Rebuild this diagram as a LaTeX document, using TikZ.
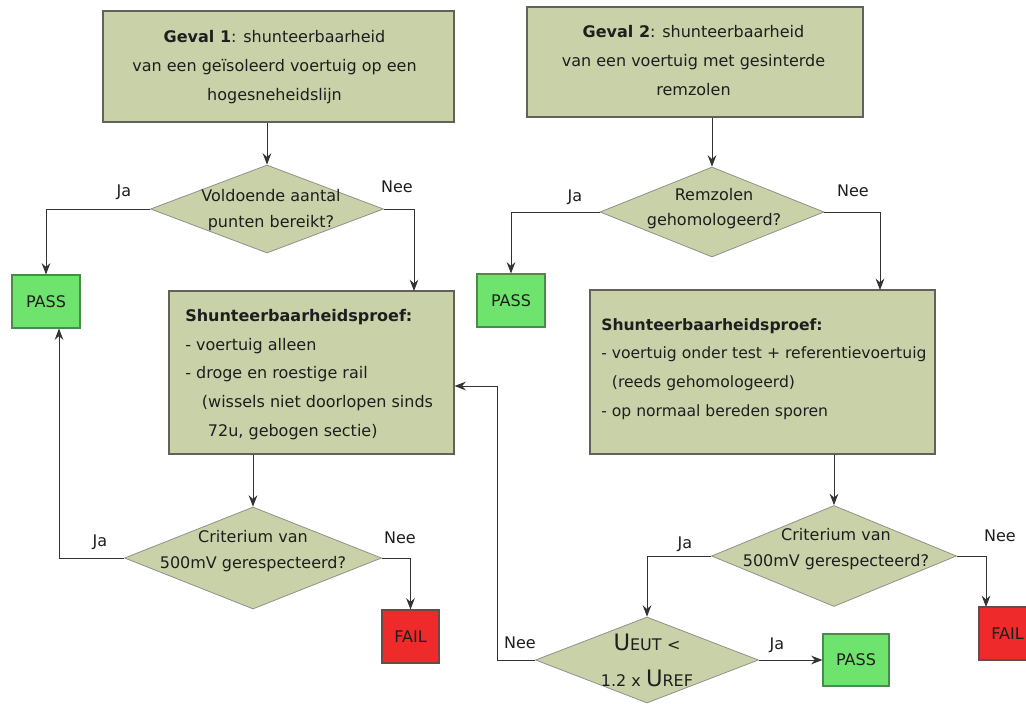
\documentclass[tikz,border=0pt]{standalone}
\usepackage{fontspec}
\setmainfont{DejaVu Sans}
\usetikzlibrary{shapes.geometric,arrows.meta,calc}
\definecolor{boxfill}{HTML}{C9D1A8}
\definecolor{boxline}{HTML}{62625A}
\definecolor{passfill}{HTML}{6EE46E}
\definecolor{passline}{HTML}{4A8A4A}
\definecolor{failfill}{HTML}{EE2A2A}
\definecolor{failline}{HTML}{6A4A4A}
\definecolor{txt}{HTML}{1E1E1E}
\definecolor{conn}{HTML}{333333}
\tikzset{
  every node/.style={text=txt, font=\fontsize{12}{14}\selectfont},
  procbox/.style={draw=boxline, fill=boxfill, line width=0.8pt, rectangle, inner sep=0pt},
  dia/.style={draw=boxline!70, fill=boxfill, line width=0.6pt, diamond, inner sep=0pt},
  passbox/.style={draw=passline, fill=passfill, line width=0.8pt, rectangle, inner sep=0pt},
  failbox/.style={draw=failline, fill=failfill, line width=0.8pt, rectangle, inner sep=0pt},
  arr/.style={draw=conn, line width=0.75pt, -{Stealth[length=8.5pt,width=6.5pt,inset=2.8pt]}},
  lbl/.style={inner sep=0pt},
  multi/.style={align=center, font=\fontsize{12}{21.75}\selectfont},
  dtext/.style={align=center, font=\fontsize{12}{19}\selectfont},
}
\begin{document}
\begin{tikzpicture}[x=0.75pt,y=-0.75pt]
\useasboundingbox (0,0) rectangle (1026,704);
\clip (0,0) rectangle (1026,704);
\fill[white] (0,0) rectangle (1026,704);

% ---- left column ----
\node[procbox, minimum width=263.25pt, minimum height=83.25pt] (g1) at (278.5,66.5) {};
\node[multi] (g1t) at (274.5,67.5) {\textbf{Geval 1}: shunteerbaarheid\\van een geïsoleerd voertuig op een\\hogesneheidslijn};

\node[dia, minimum width=174.75pt, minimum height=66pt] (d1) at (267,209) {};
\node[dtext] (d1t) at (271,210) {Voldoende aantal\\punten bereikt?};

\node[passbox, minimum width=51pt, minimum height=39.75pt] (pass1) at (46,301.5) {PASS};

\node[procbox, minimum width=213.75pt, minimum height=122.25pt] (s1) at (311.5,372.5) {};
\node[anchor=west, align=left, inner sep=0pt, font=\fontsize{12}{21.5}\selectfont] (s1t) at (185,374.5)
  {\textbf{Shunteerbaarheidsproef:}\\- voertuig alleen\\- droge en roestige rail\\\hspace*{12.5pt}(wissels niet doorlopen sinds\\\hspace*{17pt}72u, gebogen sectie)};

\node[dia, minimum width=192.75pt, minimum height=76.5pt] (d2) at (253,558) {};
\node[dtext] (d2t) at (253,551) {Criterium van\\500mV gerespecteerd?};

\node[failbox, minimum width=42.75pt, minimum height=39.75pt] (fail1) at (410.5,636.5) {FAIL};

% ---- right column ----
\node[procbox, minimum width=252pt, minimum height=82.5pt] (g2) at (695,62) {};
\node[multi] (g2t) at (693.5,61) {\textbf{Geval 2}: shunteerbaarheid\\van een voertuig met gesinterde\\remzolen};

\node[dia, minimum width=168pt, minimum height=67.5pt] (d3) at (712,212) {};
\node[dtext] (d3t) at (714,208.5) {Remzolen\\gehomologeerd?};

\node[passbox, minimum width=51pt, minimum height=39.75pt] (pass2) at (511,300.5) {PASS};

\node[procbox, minimum width=258.75pt, minimum height=123pt] (s2) at (762.5,372) {};
\node[anchor=west, align=left, inner sep=0pt, font=\fontsize{11.7}{21.5}\selectfont] (s2t) at (601,369)
  {\textbf{Shunteerbaarheidsproef:}\\- voertuig onder test + referentievoertuig\\\hspace*{8pt}(reeds gehomologeerd)\\- op normaal bereden sporen};

\node[dia, minimum width=183.75pt, minimum height=75.75pt] (d5) at (834,556) {};
\node[dtext] (d5t) at (836,549) {Criterium van\\500mV gerespecteerd?};

\node[failbox, minimum width=42.75pt, minimum height=39.75pt] (fail2) at (1007.5,633.5) {FAIL};

\node[dia, minimum width=167.25pt, minimum height=64.5pt] (d4) at (647,660) {};
\node[align=center, font=\fontsize{12}{27}\selectfont] (d4t) at (647,660)
  {{\fontsize{17}{20}\selectfont U}EUT\,\,<\\1.2 x {\fontsize{17}{20}\selectfont U}REF};

\node[passbox, minimum width=49.5pt, minimum height=39pt] (pass3) at (856,660) {PASS};

% ---- helper coordinates ----
\coordinate (s1in) at (414,291);
\coordinate (s2in) at (880,290);
\coordinate (f2in) at (986,607);
\coordinate (loopc) at (497,386);

% ---- connectors ----
\draw[arr] (g1.south -| d1.north) -- (d1.north);
\draw[arr] (d1.west) -| (pass1.north);
\draw[arr] (d1.east) -| (s1in);
\draw[arr] (d2.north |- s1.south) -- (d2.north);
\draw[arr] (d2.west) -| ($(pass1.south)+(13,0)$);
\draw[arr] (d2.east) -| (fail1.north);

\draw[arr] (g2.south -| d3.north) -- (d3.north);
\draw[arr] (d3.west) -| (pass2.north);
\draw[arr] (d3.east) -| (s2in);
\draw[arr] (d5.north |- s2.south) -- (d5.north);
\draw[arr] (d5.west) -| (d4.north);
\draw[arr] (d5.east) -| (f2in);
\draw[arr] (d4.east) -- (pass3.west);
\draw[arr] (d4.west) -| (loopc) -- (loopc -| s1.east);

% ---- labels ----
\node[lbl] (l1) at (124,192) {Ja};
\node[lbl] (l2) at (397,187) {Nee};
\node[lbl] (l3) at (100,542) {Ja};
\node[lbl] (l4) at (400,538) {Nee};
\node[lbl] (l5) at (575,197) {Ja};
\node[lbl] (l6) at (853,191) {Nee};
\node[lbl] (l7) at (685,544) {Ja};
\node[lbl] (l8) at (1000,536) {Nee};
\node[lbl] (l9) at (520,643) {Nee};
\node[lbl] (l10) at (777,645) {Ja};
\end{tikzpicture}
\end{document}
